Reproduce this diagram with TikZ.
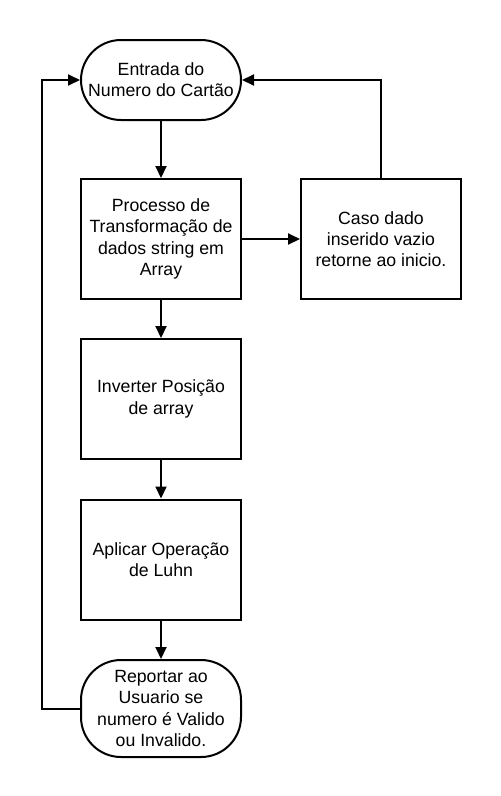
\documentclass[tikz,border=0pt]{standalone}
\usepackage{fontspec}
\setmainfont{Liberation Sans}
\usetikzlibrary{arrows.meta}
\tikzset{
  base/.style={draw, line width=2pt, align=center, minimum width=160pt, inner sep=0pt,
    font=\fontsize{17.7}{21.3}\selectfont},
  procbox/.style={base, minimum height=120pt},
  termbox/.style={base, rounded corners=40pt},
  flow/.style={line width=2pt, -{Triangle[length=12pt,width=11pt]}}
}
\begin{document}
\begin{tikzpicture}[x=1pt,y=-1pt]
\useasboundingbox (0,0) rectangle (501,796);
\node[termbox, minimum height=80pt] (start) at (161,80) {Entrada do\\Numero do Cartão};
\node[procbox] (p1) at (161,239) {Processo de\\Transformação de\\dados string em\\Array};
\node[procbox] (p2) at (161,399) {Inverter Posição\\de array};
\node[procbox] (p3) at (161,559.5) {Aplicar Operação\\de Luhn};
\node[termbox, minimum height=97pt] (end) at (161,708.5) {Reportar ao\\Usuario se\\numero é Valido\\ou Invalido.};
\node[procbox] (empty) at (381,239) {Caso dado\\inserido vazio\\retorne ao inicio.};
\coordinate (ltop) at (41.5,80);
\coordinate (lbot) at (41.5,708.5);
\coordinate (rtop) at (381,80);
\draw[flow] (start) -- (p1);
\draw[flow] (p1) -- (p2);
\draw[flow] (p2) -- (p3);
\draw[flow] (p3) -- (end);
\draw[flow] (p1) -- (empty);
\draw[flow] (empty.north) -- (rtop) -- (start.east);
\draw[flow] (end.west) -- (lbot) -- (ltop) -- (start.west);
\end{tikzpicture}
\end{document}
